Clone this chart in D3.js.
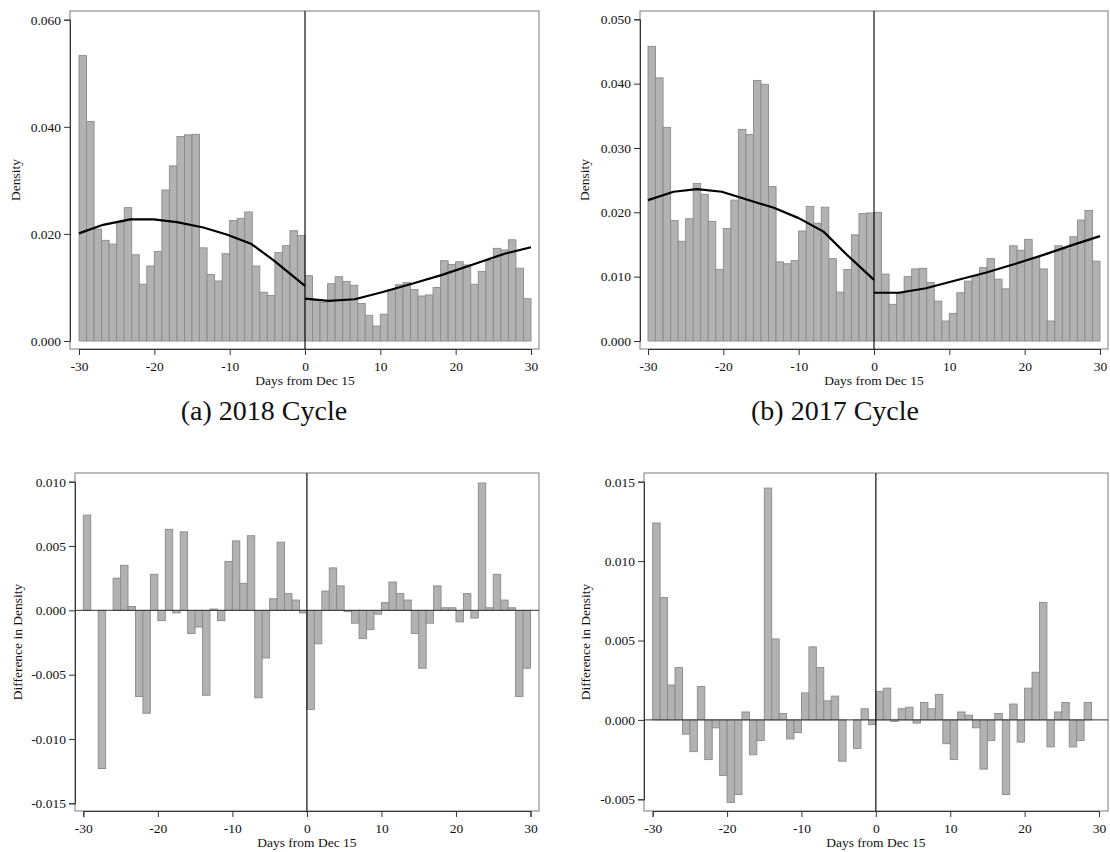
<!DOCTYPE html>
<html>
<head>
<meta charset="utf-8">
<script src="https://cdn.jsdelivr.net/npm/d3@7"></script>
<style>
  body { margin: 0; background: #fff; }
  svg { display: block; font-family: "Liberation Serif", "Times New Roman", serif; }
</style>
</head>
<body>
<svg></svg>
<script>
const SVGsize = {w: 1110, h: 852};
const svg = d3.select('svg')
    .attr('width', SVGsize.w)
    .attr('height', SVGsize.h);

// day bins, each bar covers [d, d+1)
const days = d3.range(-30, 30);
const xTicks = [-30, -20, -10, 0, 10, 20, 30];

// density, 2018 cycle
const dens2018 = [
    0.0533, 0.0410, 0.0209, 0.0188, 0.0181, 0.0222, 0.0249, 0.0161, 0.0106, 0.0140,
    0.0167, 0.0282, 0.0327, 0.0382, 0.0385, 0.0386, 0.0174, 0.0124, 0.0112, 0.0163,
    0.0225, 0.0229, 0.0241, 0.0140, 0.0091, 0.0085, 0.0165, 0.0178, 0.0206, 0.0197,
    0.0122, 0.0076, 0.0072, 0.0107, 0.0120, 0.0111, 0.0104, 0.0070, 0.0048, 0.0028,
    0.0050, 0.0096, 0.0105, 0.0109, 0.0096, 0.0084, 0.0086, 0.0100, 0.0150, 0.0143,
    0.0148, 0.0142, 0.0106, 0.0130, 0.0150, 0.0173, 0.0170, 0.0189, 0.0136, 0.0079
];
// density, 2017 cycle
const dens2017 = [
    0.0458, 0.0409, 0.0332, 0.0187, 0.0155, 0.0190, 0.0245, 0.0228, 0.0186, 0.0111,
    0.0175, 0.0219, 0.0329, 0.0321, 0.0405, 0.0399, 0.0240, 0.0123, 0.0120, 0.0125,
    0.0171, 0.0209, 0.0183, 0.0208, 0.0128, 0.0076, 0.0111, 0.0165, 0.0198, 0.0199,
    0.0200, 0.0104, 0.0057, 0.0074, 0.0100, 0.0112, 0.0113, 0.0091, 0.0062, 0.0031,
    0.0043, 0.0075, 0.0093, 0.0101, 0.0114, 0.0128, 0.0096, 0.0081, 0.0148, 0.0141,
    0.0158, 0.0130, 0.0112, 0.0031, 0.0148, 0.0143, 0.0162, 0.0188, 0.0203, 0.0124
];
// difference in density
const diff2018 = [
    0.0074, 0.0000, -0.0123, 0.0000, 0.0025, 0.0035, 0.0003, -0.0067, -0.0080, 0.0028,
    -0.0008, 0.0063, -0.0002, 0.0061, -0.0018, -0.0013, -0.0066, 0.0001, -0.0008, 0.0038,
    0.0054, 0.0021, 0.0058, -0.0068, -0.0037, 0.0009, 0.0053, 0.0013, 0.0008, -0.0002,
    -0.0077, -0.0026, 0.0015, 0.0033, 0.0019, -0.0001, -0.0010, -0.0022, -0.0015, -0.0003,
    0.0006, 0.0022, 0.0013, 0.0008, -0.0018, -0.0045, -0.0010, 0.0019, 0.0002, 0.0002,
    -0.0009, 0.0013, -0.0006, 0.0099, 0.0002, 0.0028, 0.0008, 0.0002, -0.0067, -0.0045
];
const diff2017 = [
    0.0124, 0.0077, 0.0022, 0.0033, -0.0009, -0.0020, 0.0021, -0.0025, -0.0005, -0.0035,
    -0.0052, -0.0047, 0.0005, -0.0022, -0.0013, 0.0146, 0.0051, 0.0004, -0.0012, -0.0008,
    0.0017, 0.0046, 0.0033, 0.0012, 0.0015, -0.0026, 0.0000, -0.0018, 0.0007, -0.0003,
    0.0018, 0.0020, -0.0001, 0.0007, 0.0008, -0.0002, 0.0011, 0.0007, 0.0016, -0.0015,
    -0.0025, 0.0005, 0.0003, -0.0005, -0.0031, -0.0013, 0.0004, -0.0047, 0.0010, -0.0014,
    0.0020, 0.0030, 0.0074, -0.0017, 0.0005, 0.0011, -0.0017, -0.0013, 0.0011, 0.0000
];

// fitted lines, left and right of the cutoff
const fit2018L_x = [-30, -26.8, -23.2, -20.1, -17.0, -13.5, -10.4, -7.1, -4.2, 0];
const fit2018L_y = [0.0201, 0.0217, 0.0227, 0.0227, 0.0222, 0.0212, 0.0199, 0.0181, 0.0151, 0.0103];
const fit2018R_x = [0, 3.1, 6.6, 10.2, 14.2, 18.1, 22.1, 26.5, 30];
const fit2018R_y = [0.0079, 0.0075, 0.0078, 0.0091, 0.0107, 0.0123, 0.0142, 0.0163, 0.0175];
const fit2017L_x = [-30, -26.6, -23.5, -20.2, -16.9, -13.3, -10.0, -6.7, -3.6, 0];
const fit2017L_y = [0.0219, 0.0232, 0.0236, 0.0232, 0.0220, 0.0207, 0.0191, 0.0170, 0.0134, 0.0095];
const fit2017R_x = [0, 3.3, 6.9, 10.8, 14.8, 18.8, 22.8, 26.3, 30];
const fit2017R_y = [0.0075, 0.0075, 0.0082, 0.0094, 0.0106, 0.0120, 0.0135, 0.0149, 0.0163];

const yTicks2018 = [0, 0.02, 0.04, 0.06];
const yTicks2017 = [0, 0.01, 0.02, 0.03, 0.04, 0.05];
const yTicksDiff2018 = [-0.015, -0.010, -0.005, 0, 0.005, 0.010];
const yTicksDiff2017 = [-0.005, 0, 0.005, 0.010, 0.015];

const captions = ["(a) 2018 Cycle", "(b) 2017 Cycle"];

const fmtY = v => d3.format(".3f")(v).replace("\u2212", "-");
const fmtX = v => String(v);

function zip(xs, ys) { return xs.map((x, i) => [x, ys[i]]); }

function drawPanel(p) {
    const g = svg.append("g");

    const scaleX = d3.scaleLinear().domain([-30, 30]).range(p.xr);
    const scaleY = d3.scaleLinear().domain(p.yd).range(p.yr);

    // bars
    g.selectAll(".bar")
        .data(days.map((d, i) => ({day: d, v: p.values[i]})))
        .enter()
        .append("rect")
            .attr("class", "bar")
            .attr("x", d => scaleX(d.day))
            .attr("width", d => scaleX(d.day + 1) - scaleX(d.day))
            .attr("y", d => scaleY(Math.max(0, d.v)))
            .attr("height", d => Math.abs(scaleY(d.v) - scaleY(0)))
            .attr("fill", "#b2b2b2")
            .attr("stroke", "#8a8a8a")
            .attr("stroke-width", 0.9);

    // frame
    g.append("rect")
        .attr("x", p.f.l).attr("y", p.f.t)
        .attr("width", p.f.r - p.f.l).attr("height", p.f.b - p.f.t)
        .attr("fill", "none")
        .attr("stroke", "#7a7a7a")
        .attr("stroke-width", 1);

    // horizontal zero line for difference panels
    if (p.zeroLine) {
        g.append("line")
            .attr("x1", p.f.l).attr("x2", p.f.r)
            .attr("y1", scaleY(0)).attr("y2", scaleY(0))
            .attr("stroke", "#333").attr("stroke-width", 1);
    }

    // cutoff
    g.append("line")
        .attr("x1", scaleX(0)).attr("x2", scaleX(0))
        .attr("y1", p.f.t).attr("y2", p.f.b)
        .attr("stroke", "#111").attr("stroke-width", 1.2);

    // fitted lines
    if (p.fits) {
        const line = d3.line()
            .x(d => scaleX(d[0]))
            .y(d => scaleY(d[1]));
        p.fits.forEach(f => {
            g.append("path")
                .attr("d", line(f))
                .attr("fill", "none")
                .attr("stroke", "#000")
                .attr("stroke-width", 2.2)
                .attr("stroke-linejoin", "round");
        });
    }

    // axes
    const yAxis = g.append("g")
        .attr("transform", `translate(${p.f.l}, 0)`)
        .call(d3.axisLeft(scaleY).tickValues(p.yt).tickFormat(fmtY).tickSize(6).tickPadding(3));
    const xAxis = g.append("g")
        .attr("transform", `translate(0, ${p.f.b})`)
        .call(d3.axisBottom(scaleX).tickValues(xTicks).tickFormat(fmtX).tickSize(6).tickPadding(6));

    [yAxis, xAxis].forEach(a => {
        a.select(".domain").attr("stroke", "#333");
        a.selectAll(".tick line").attr("stroke", "#333");
        a.selectAll("text")
            .attr("fill", "#111")
            .style("font-family", '"Liberation Serif", serif')
            .style("font-size", "13.5px");
    });

    g.append("text")
        .attr("transform", `translate(${p.ylabX}, ${(p.f.t + p.f.b) / 2}) rotate(-90)`)
        .attr("text-anchor", "middle")
        .attr("dy", "0.35em")
        .attr("fill", "#111")
        .style("font-size", "13.5px")
        .text(p.ylab);

    g.append("text")
        .attr("x", scaleX(0))
        .attr("y", p.f.b + 36)
        .attr("text-anchor", "middle")
        .attr("fill", "#111")
        .style("font-size", "13.5px")
        .text("Days from Dec 15");
}

const panels = [
    {values: dens2018, yd: [0, 0.06], yt: yTicks2018,
     f: {l: 70, r: 539, t: 11, b: 349}, xr: [79, 531], yr: [341, 19.7],
     fits: [zip(fit2018L_x, fit2018L_y), zip(fit2018R_x, fit2018R_y)],
     ylab: "Density", ylabX: 15},
    {values: dens2017, yd: [0, 0.05], yt: yTicks2017,
     f: {l: 640, r: 1108, t: 11, b: 349}, xr: [648, 1100], yr: [341, 19.3],
     fits: [zip(fit2017L_x, fit2017L_y), zip(fit2017R_x, fit2017R_y)],
     ylab: "Density", ylabX: 584},
    {values: diff2018, yd: [-0.015, 0.010], yt: yTicksDiff2018,
     f: {l: 75, r: 539, t: 473, b: 811}, xr: [83.3, 530.5], yr: [803.3, 481.7],
     zeroLine: true, ylab: "Difference in Density", ylabX: 17},
    {values: diff2017, yd: [-0.005, 0.015], yt: yTicksDiff2017,
     f: {l: 644, r: 1108, t: 473, b: 811}, xr: [652.7, 1099], yr: [799.3, 481.7],
     zeroLine: true, ylab: "Difference in Density", ylabX: 585}
];

panels.forEach(drawPanel);

// sub-figure captions
svg.selectAll(".caption")
    .data(captions)
    .enter()
    .append("text")
        .attr("class", "caption")
        .attr("x", (d, i) => i === 0 ? 264 : 835)
        .attr("y", 420)
        .attr("text-anchor", "middle")
        .attr("fill", "#111")
        .style("font-size", "28px")
        .text(d => d);
</script>
</body>
</html>
